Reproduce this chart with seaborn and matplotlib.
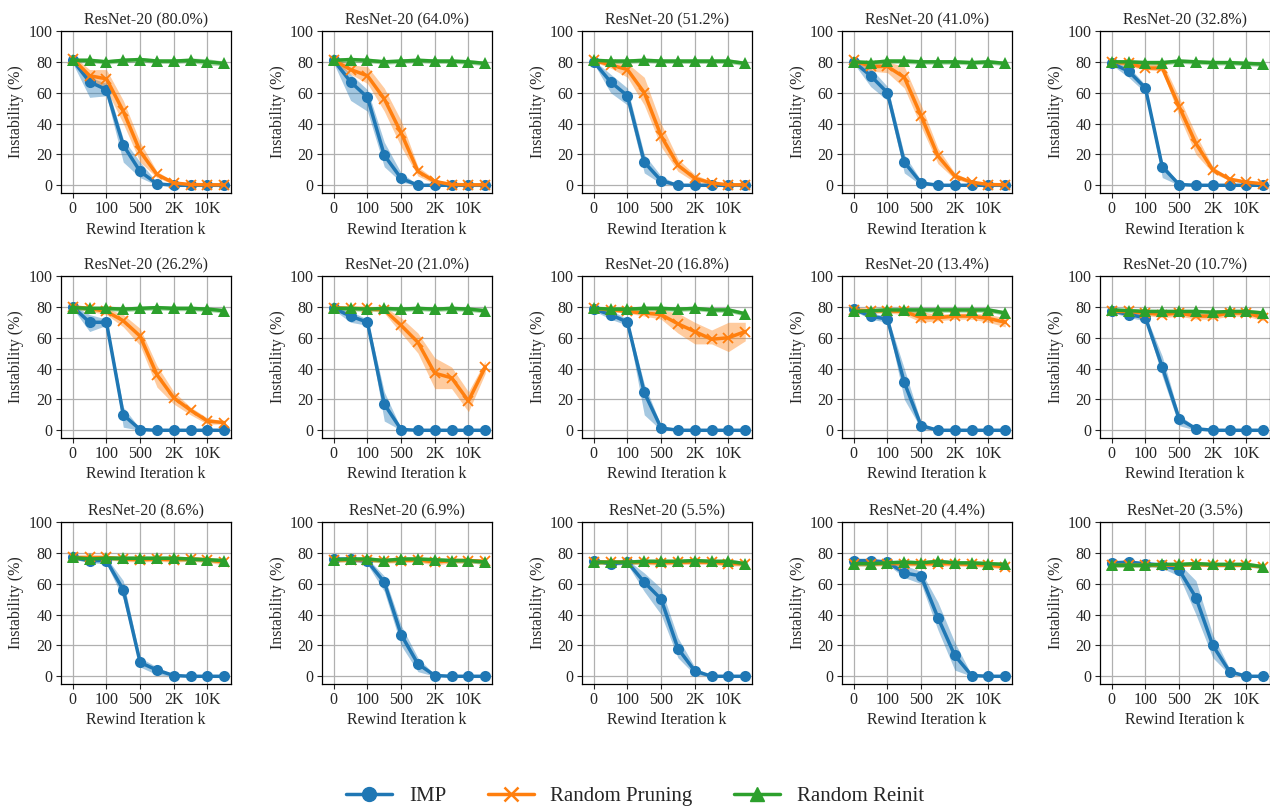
import numpy as np
import pandas as pd
import matplotlib
matplotlib.use("Agg")
import matplotlib.pyplot as plt
import seaborn as sns
from matplotlib.lines import Line2D

sns.set_style("ticks")
plt.rcParams['font.family'] = ['Liberation Serif', 'DejaVu Serif']
plt.rcParams['mathtext.fontset'] = 'stix'

sparsity = ["80.0%", "64.0%", "51.2%", "41.0%", "32.8%",
            "26.2%", "21.0%", "16.8%", "13.4%", "10.7%",
            "8.6%", "6.9%", "5.5%", "4.4%", "3.5%"]
xticklabels = ["0", "100", "500", "2K", "10K"]
xpos = list(range(10))

imp_mean = [
    [81, 67, 62, 26, 9, 1, 0, 0, 0, 0],
    [81, 67, 57, 19.5, 4.5, 0, 0, 0, 0, 0],
    [80, 67, 58, 15, 3, 0, 0, 0, 0, 0],
    [80, 71, 60, 15, 1.5, 0, 0, 0, 0, 0],
    [79, 74, 63, 12, 0.5, 0, 0, 0, 0, 0],
    [80, 70, 70, 10, 0.5, 0, 0, 0, 0, 0],
    [79, 74, 70, 17, 0.5, 0, 0, 0, 0, 0],
    [78.5, 75, 70, 24.5, 1.5, 0, 0, 0, 0, 0],
    [78.5, 74, 72, 31, 3, 0, 0, 0, 0, 0],
    [77.5, 75, 73, 41, 7.5, 1, 0, 0, 0, 0],
    [77, 75, 75, 56, 9, 4, 0.5, 0, 0, 0],
    [76, 76, 74.5, 61, 27, 8, 0.5, 0, 0, 0],
    [75, 73, 74, 61, 50, 18, 3.5, 0, 0, 0],
    [75, 75, 74, 67, 65, 38, 13.5, 0.5, 0, 0],
    [73.5, 74, 73, 72, 69, 51, 20, 3, 0, 0],
]
imp_lo = [
    [79, 57, 58, 15, 5, 0, 0, 0, 0, 0],
    [79, 55, 48, 12, 2, 0, 0, 0, 0, 0],
    [79, 60, 52, 8, 1, 0, 0, 0, 0, 0],
    [79, 64, 55, 8, 0, 0, 0, 0, 0, 0],
    [78, 70, 60, 5, 0, 0, 0, 0, 0, 0],
    [79, 64, 68, 2, 0, 0, 0, 0, 0, 0],
    [78, 70, 68, 6, 0, 0, 0, 0, 0, 0],
    [77.5, 72, 68, 10, 0, 0, 0, 0, 0, 0],
    [77.5, 72, 70, 20, 1, 0, 0, 0, 0, 0],
    [76.5, 73, 71, 35, 3, 0, 0, 0, 0, 0],
    [76, 73.5, 73, 50, 6, 1, 0, 0, 0, 0],
    [75, 75, 72.5, 55, 20, 3, 0, 0, 0, 0],
    [74, 72, 72.5, 55, 40, 12, 1, 0, 0, 0],
    [74, 74, 72.5, 64, 60, 30, 4, 0, 0, 0],
    [72.5, 73, 72, 70, 65, 40, 12, 1, 0, 0],
]
imp_hi = [
    [83, 70, 66, 30, 15, 2, 0.5, 0, 0, 0],
    [83, 72, 62, 28, 8, 0.5, 0, 0, 0, 0],
    [81, 72, 63, 20, 6, 0.5, 0, 0, 0, 0],
    [81, 76, 64, 20, 3, 0.5, 0, 0, 0, 0],
    [80, 77, 65, 15, 1, 0, 0, 0, 0, 0],
    [81, 75, 72, 15, 1, 0, 0, 0, 0, 0],
    [80, 77, 72, 25, 1, 0, 0, 0, 0, 0],
    [79.5, 78, 72, 30, 3, 0, 0, 0, 0, 0],
    [79.5, 76, 74, 40, 5, 0.5, 0, 0, 0, 0],
    [78.5, 77, 75, 48, 10, 2, 0, 0, 0, 0],
    [78, 76.5, 77, 62, 12, 6, 1, 0, 0, 0],
    [77, 77, 76.5, 65, 33, 12, 1, 0, 0, 0],
    [76, 74, 75.5, 67, 57, 25, 6, 0, 0, 0],
    [76, 76, 75.5, 72, 68, 48, 22, 1, 0, 0],
    [74.5, 75, 74, 74, 73, 62, 27, 5, 0, 0],
]

rp_mean = [
    [82, 71, 69, 48, 22, 7, 1.5, 0.5, 0.3, 0.3],
    [81, 75, 71, 56, 34, 9, 2.5, 0.5, 0.3, 0.3],
    [81, 78, 75, 60, 32, 13, 4.5, 1.5, 0.3, 0.3],
    [81, 77, 77, 70, 45, 19, 6, 2, 0.5, 0.3],
    [80, 79, 76, 76, 51, 27, 10, 4, 2, 1],
    [80, 79, 77, 71, 61, 36, 21, 13, 6, 5],
    [79.5, 79, 79, 78, 68, 57, 37, 34, 19, 41],
    [79, 78, 77, 76, 75, 69, 64, 59, 60, 64],
    [78, 77.5, 77.5, 77, 73, 73, 74, 74, 72.5, 70],
    [77, 77, 76, 75, 76, 74, 74, 76, 76, 73],
    [77, 77, 77, 76, 75.5, 76, 75.5, 76, 75.5, 74],
    [75.5, 75.5, 75.5, 75, 75, 75.5, 74, 75, 75, 74.5],
    [74, 74, 74, 74, 73.5, 74, 74, 74, 73, 73],
    [73, 73, 73, 73, 73, 73, 73, 72.5, 72, 71],
    [72, 72, 72, 72, 72, 72.5, 72, 72, 72, 71],
]
rp_lo = [
    [80, 66, 62, 40, 15, 5, 0.5, 0, 0, 0],
    [79, 72, 66, 48, 25, 6, 1, 0, 0, 0],
    [80, 76, 70, 52, 25, 9, 2, 0.5, 0, 0],
    [80, 74, 73, 63, 38, 14, 4, 1, 0, 0],
    [79, 77, 75, 74, 45, 20, 8, 3, 1, 0],
    [79, 77, 75, 67, 55, 28, 17, 10, 4, 4],
    [78.5, 78, 78, 76, 63, 50, 27, 27, 12, 37],
    [78, 77, 76, 74, 72, 63, 56, 56, 51, 58],
    [77, 76, 76, 75, 70, 71, 72, 72, 70, 67],
    [75.5, 75.5, 74.5, 73, 74, 72, 72, 74, 74, 71],
    [75.5, 75.5, 75.5, 74.5, 74, 74.5, 74, 74.5, 74, 72],
    [74, 74, 74, 73.5, 73.5, 74, 72, 73.5, 73.5, 73],
    [72.5, 72.5, 72.5, 72.5, 72, 72.5, 72.5, 72.5, 71.5, 71.5],
    [71.5, 71.5, 71.5, 71.5, 71.5, 71.5, 71.5, 71, 70.5, 69.5],
    [71, 71, 71, 71, 71, 71.5, 71, 71, 71, 70],
]
rp_hi = [
    [84, 75, 75, 55, 28, 9, 2.5, 1, 0.5, 0.5],
    [83, 78, 77, 63, 42, 12, 4, 1, 0.5, 0.5],
    [82, 80, 79, 70, 40, 17, 7, 2.5, 0.5, 0.5],
    [82, 79, 80, 77, 52, 24, 8, 3, 1, 0.5],
    [81, 80, 78, 80, 57, 33, 12, 5, 3, 2],
    [81, 80, 79, 75, 66, 42, 25, 15, 8, 6],
    [80.5, 80, 80, 80, 73, 63, 47, 41, 25, 45],
    [80, 79, 78, 78, 78, 76, 70, 65, 70, 70],
    [79, 79, 79, 79, 77, 75, 76, 76, 75, 73],
    [78.5, 78.5, 77.5, 77, 78, 76, 76, 78, 78, 75],
    [78.5, 78.5, 78.5, 77.5, 77, 77.5, 77, 77.5, 77, 76],
    [77, 77, 77, 76.5, 76.5, 77, 76, 76.5, 76.5, 76],
    [75.5, 75.5, 75.5, 75.5, 75, 75.5, 75.5, 75.5, 74.5, 74.5],
    [74.5, 74.5, 74.5, 74.5, 74.5, 74.5, 74.5, 74, 73.5, 72.5],
    [73, 73, 73, 73, 73, 73.5, 73, 73, 73, 72],
]

rr_mean = [
    [81, 81, 80, 81, 81.5, 80.5, 80.5, 81, 80, 79],
    [81, 81.5, 81, 80, 80.5, 81, 80.5, 80.5, 80, 79],
    [81, 80.5, 80.5, 81, 80.5, 80.5, 80.5, 80.5, 80.5, 79],
    [80, 79.5, 80.5, 80.5, 80, 80, 80, 79.5, 80, 79],
    [80, 80, 79.5, 79.5, 80.5, 80, 79.5, 79.5, 79, 78.5],
    [79.5, 79, 79, 78.5, 79, 79.5, 79, 79, 78.5, 77.5],
    [79, 79, 78.5, 79, 78.5, 79, 78.5, 79, 78.5, 77.5],
    [79, 78.5, 78.5, 79, 79, 78.5, 79, 78, 78, 75.5],
    [77, 77.5, 78, 78, 78, 78, 78, 78, 78, 76],
    [78, 77.5, 77, 77, 77, 77, 76.5, 77, 77, 76],
    [77, 76, 76.5, 76.5, 76.5, 76.5, 76.5, 76, 75.5, 75],
    [75.5, 76, 76, 75, 76, 76, 75.5, 75, 75, 74],
    [74, 74, 74, 74.5, 74.5, 74.5, 75, 74.5, 74.5, 73],
    [73, 73, 73.5, 74, 73.5, 74.5, 73.5, 73.5, 73, 72.5],
    [72, 72, 72, 72.5, 72.5, 73, 72.5, 72.5, 72.5, 71],
]
rr_spread = [
    [1.5, 1.5, 1.5, 1.5, 1.5, 1.5, 1.5, 1.5, 2, 1.5],
    [1.5, 1.5, 1.5, 1.5, 1.5, 1.5, 1.5, 1.5, 1.5, 1.5],
    [1.5, 1.5, 1.5, 1.5, 1.5, 1.5, 1.5, 1.5, 1.5, 1.5],
    [1.5, 1.5, 1.5, 1.5, 1.5, 1.5, 1.5, 1.5, 1.5, 1.5],
    [1.5, 1.5, 1.5, 1.5, 1.5, 1.5, 1.5, 1.5, 1.5, 1.5],
    [1.5, 1.5, 1.5, 1.5, 1.5, 1.5, 1.5, 1.5, 1.5, 1.5],
    [1.5, 1.5, 1.5, 1.5, 1.5, 1.5, 1.5, 1.5, 1.5, 1.5],
    [1.5, 1.5, 1.5, 1.5, 1.5, 1.5, 1.5, 1.5, 1.5, 1.5],
    [1.5, 1.5, 1.5, 1.5, 1.5, 1.5, 1.5, 1.5, 1.5, 1.5],
    [1.5, 1.5, 1.5, 1.5, 1.5, 1.5, 1.5, 1.5, 1.5, 1.5],
    [1.5, 1.5, 1.5, 1.5, 1.5, 1.5, 1.5, 1.5, 1.5, 1.5],
    [1.5, 1.5, 1.5, 1.5, 1.5, 1.5, 1.5, 1.5, 1.5, 1.5],
    [1.5, 1.5, 1.5, 1.5, 1.5, 1.5, 1.5, 1.5, 1.5, 1.5],
    [1.5, 1.5, 1.5, 1.5, 1.5, 1.5, 1.5, 1.5, 1.5, 1.5],
    [1.5, 1.5, 1.5, 1.5, 1.5, 1.5, 1.5, 1.5, 1.5, 1.5],
]

series_names = ["IMP", "Random Pruning", "Random Reinit"]
colors = ["#1f77b4", "#ff7f0e", "#2ca02c"]
markers = ["o", "x", "^"]

fig = plt.figure(figsize=(12.7, 8.11), dpi=100)
W, H = 1270.0, 811.0
col_left = [61, 322, 582, 842, 1100]
row_top = [31, 276, 522]
aw, ah = 170, 162

for i in range(15):
    r, c = divmod(i, 5)
    ax = fig.add_axes([col_left[c] / W, 1 - (row_top[r] + ah) / H, aw / W, ah / H])
    ax.set_axisbelow(True)
    ax.grid(True, color="#b0b0b0", linewidth=0.9)
    bands = [
        (imp_lo[i], imp_hi[i]),
        (rp_lo[i], rp_hi[i]),
        ([m - s for m, s in zip(rr_mean[i], rr_spread[i])],
         [m + s for m, s in zip(rr_mean[i], rr_spread[i])]),
    ]
    means = [imp_mean[i], rp_mean[i], rr_mean[i]]
    for k in range(3):
        ax.fill_between(xpos, bands[k][0], bands[k][1], color=colors[k], alpha=0.4, linewidth=0)
        df = pd.DataFrame({"x": xpos, "y": means[k]})
        if markers[k] == "x":
            kw = dict(markersize=7, markeredgewidth=1.3, markeredgecolor=colors[k])
        else:
            kw = dict(markersize=8, markeredgewidth=0)
        sns.lineplot(data=df, x="x", y="y", ax=ax, color=colors[k], marker=markers[k],
                     linewidth=2.5, legend=False, **kw)
    ax.set_xlim(-0.7, 9.4)
    ax.set_ylim(-5, 100)
    ax.set_xticks([0, 2, 4, 6, 8])
    ax.set_xticklabels(xticklabels)
    ax.set_yticks([0, 20, 40, 60, 80, 100])
    ax.tick_params(labelsize=11.5, length=3.5, width=0.8, pad=2.5)
    ax.set_xlabel("Rewind Iteration k", fontsize=11.5, labelpad=3)
    ax.set_ylabel("Instability (%)", fontsize=11.5, labelpad=3)
    ax.set_title(f"ResNet-20 ({sparsity[i]})", fontsize=11.5, pad=5)
    for sp in ax.spines.values():
        sp.set_visible(True)
        sp.set_color("black")
        sp.set_linewidth(0.9)

handles = []
for k in range(3):
    if markers[k] == "x":
        h = Line2D([], [], color=colors[k], marker="x", markersize=10, markeredgewidth=1.8, linewidth=2.5)
    else:
        h = Line2D([], [], color=colors[k], marker=markers[k], markersize=10, linewidth=2.5)
    handles.append(h)
fig.legend(handles, series_names, loc="center", bbox_to_anchor=(0.5, 1 - 796 / H),
           ncol=3, frameon=False, fontsize=15, handlelength=2.2, columnspacing=2.0, handletextpad=0.8)

fig.savefig("out.png", dpi=100)
